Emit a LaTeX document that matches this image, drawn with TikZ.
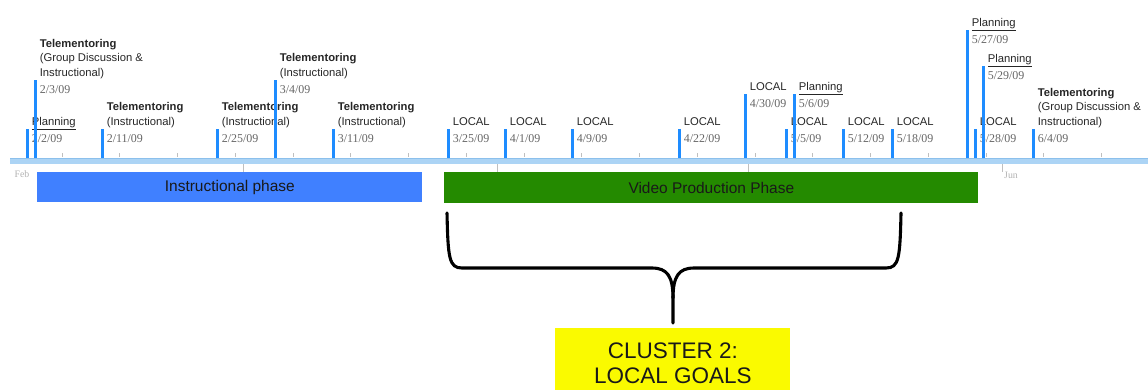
\documentclass[tikz,border=0pt]{standalone}
\usepackage{fontspec}
\setmainfont{Liberation Serif}
\setsansfont{Liberation Sans}

\definecolor{barblue}{RGB}{30,140,255}
\definecolor{instblue}{RGB}{64,128,255}
\definecolor{vidgreen}{RGB}{36,138,0}
\definecolor{clusteryellow}{RGB}{250,250,0}
\definecolor{axisblue}{RGB}{172,212,245}
\definecolor{axisedge}{RGB}{140,192,236}

\tikzset{
  bar/.style={fill=barblue},
  evtitle/.style={font=\sffamily\fontsize{8}{10}\selectfont, text=black!85, align=left, inner sep=0pt, anchor=base west},
  evdate/.style={font=\rmfamily\fontsize{8.5}{10}\selectfont, text=black!60, inner sep=0pt, anchor=base west},
  tick/.style={black!25, line width=0.5pt},
  month/.style={font=\rmfamily\fontsize{7}{8}\selectfont, text=black!30, inner sep=0pt},
  phase/.style={font=\sffamily\fontsize{11}{13}\selectfont, text=black!90, inner sep=0pt, anchor=north west},
  brace/.style={line width=2.2pt, line cap=round, line join=round}
}

\newcommand{\tm}{\textbf{Telementoring}}
\newcommand{\plan}{\underline{Planning}}
% one event: name, x, top of bar, title, date
\newcommand{\event}[5]{%
  \coordinate (#1) at (#2,#3);
  \fill[bar] (#2-1.5,158) rectangle (#2+1.5,#3);
  \node[evtitle] (#1-t) at (#2+4.5,#3-4) {#4};
  \node[evdate] (#1-d) at (#2+4.5,#3+13) {#5};
}

\begin{document}
\begin{tikzpicture}[x=0.025cm,y=-0.025cm]
  \useasboundingbox (0,0) rectangle (1148,389);

  % time axis
  \fill[axisblue] (10,158) rectangle (1148,164);
  \draw[axisedge, line width=0.8pt] (10,158.4) -- (1148,158.4);
  \foreach \i in {0,...,18}
    \draw[tick] (62+57.75*\i,153) -- (62+57.75*\i,157);
  \draw[tick] (243,164) -- (243,172);
  \draw[tick] (497,164) -- (497,172);
  \draw[tick] (748,164) -- (748,172);
  \draw[tick] (1002,164) -- (1002,172);
  \node[month] (feb) at (22,174) {Feb};
  \node[month] (jun) at (1011,175) {Jun};

  % events
  \event{e1}{27}{129}{\plan}{2/2/09}
  \event{e2}{35}{80}{\tm\\(Group Discussion \&\\Instructional)}{2/3/09}
  \event{e3}{102}{129}{\tm\\(Instructional)}{2/11/09}
  \event{e4}{217}{129}{\tm\\(Instructional)}{2/25/09}
  \event{e5}{275}{80}{\tm\\(Instructional)}{3/4/09}
  \event{e6}{333}{129}{\tm\\(Instructional)}{3/11/09}
  \event{e7}{448}{129}{LOCAL}{3/25/09}
  \event{e8}{505}{129}{LOCAL}{4/1/09}
  \event{e9}{572}{129}{LOCAL}{4/9/09}
  \event{e10}{679}{129}{LOCAL}{4/22/09}
  \event{e11}{745}{94}{LOCAL}{4/30/09}
  \event{e12}{786}{129}{LOCAL}{5/5/09}
  \event{e13}{794}{94}{\plan}{5/6/09}
  \event{e14}{843}{129}{LOCAL}{5/12/09}
  \event{e15}{892}{129}{LOCAL}{5/18/09}
  \event{e16}{967}{30}{\plan}{5/27/09}
  \event{e17}{975}{129}{LOCAL}{5/28/09}
  \event{e18}{983}{66}{\plan}{5/29/09}
  \event{e19}{1033}{129}{\tm\\(Group Discussion \&\\Instructional)}{6/4/09}

  % phases
  \node[phase, fill=instblue, minimum width=9.625cm, minimum height=0.75cm] (inst) at (37,172) {Instructional phase};
  \node[phase, fill=vidgreen, minimum width=13.35cm, minimum height=0.775cm] (video) at (444,172) {Video Production Phase};

  % brace and cluster
  \draw[brace] (447,213) .. controls (448,258) and (449,268) .. (462,268) -- (652,268)
    .. controls (667,268) and (673,276) .. (673,298) -- (673,323);
  \draw[brace] (901,213) .. controls (900,258) and (899,268) .. (886,268) -- (694,268)
    .. controls (679,268) and (673,276) .. (673,298);
  \node[fill=clusteryellow, anchor=north west, minimum width=5.875cm, minimum height=1.75cm,
    align=center, font=\sffamily\fontsize{16}{17.5}\selectfont, text=black!90] (cluster) at (555,328)
    {CLUSTER 2:\\LOCAL GOALS};
\end{tikzpicture}
\end{document}
